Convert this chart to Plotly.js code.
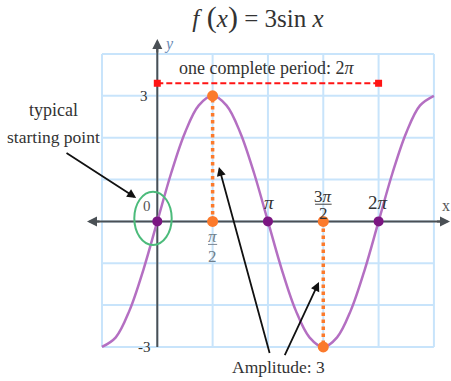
<!DOCTYPE html>
<html>
<head>
<meta charset="utf-8">
<script src="https://cdn.plot.ly/plotly-3.0.1.min.js"></script>
</head>
<body style="margin:0">
<div id="chart" style="width:451px;height:381px"></div>
<script>
const PI = Math.PI;
// curve samples (x in multiples of pi) and values
const curveXPi = [-0.5,-0.375,-0.25,-0.125,0,0.125,0.25,0.375,0.5,0.625,0.75,0.875,1,1.125,1.25,1.375,1.5,1.625,1.75,1.875,2,2.125,2.25,2.375,2.5];
const curveY   = [-3,-2.77,-2.12,-1.15,0,1.15,2.12,2.77,3,2.77,2.12,1.15,0,-1.15,-2.12,-2.77,-3,-2.77,-2.12,-1.15,0,1.15,2.12,2.77,3];
const zeroXPi = [0,1,2];
const zeroY = [0,0,0];
const orangeXPi = [0.5,0.5,1.5,1.5];
const orangeY = [3,0,0,-3];
const ampXPi = [0.5,0.5,null,1.5,1.5];
const ampY = [0,3,null,0,-3];
const periodXPi = [0,2];
const periodY = [3.3,3.3];
const gridXPi = [-0.5,0,0.5,1,1.5,2,2.5];
const gridY = [-3,-2,-1,0,1,2,3,4];

const toRad = a => a.map(v => v === null ? null : v*PI);

const FONT = 'Liberation Serif';
const txt = "#333333";

const traces = [
  {x: toRad(curveXPi), y: curveY, mode:'lines', line:{color:'#b46fc2', width:2.5, shape:'spline', smoothing:1}, hoverinfo:'skip'},
  {x: toRad(ampXPi), y: ampY, mode:'lines', line:{color:'#fb7a2c', width:3.5, dash:'dot'}, hoverinfo:'skip'},
  {x: toRad(periodXPi), y: periodY, mode:'lines+markers', line:{color:'#ff1414', width:2, dash:'6px,3px'}, marker:{symbol:'square', size:7, color:'#ff1414'}, hoverinfo:'skip'},
  {x: toRad(zeroXPi), y: zeroY, mode:'markers', marker:{color:'#7b1682', size:10}, hoverinfo:'skip'},
  {x: toRad(orangeXPi), y: orangeY, mode:'markers', marker:{color:'#fb7a2c', size:11}, hoverinfo:'skip'}
];

const gx0 = gridXPi[0]*PI, gx1 = gridXPi[gridXPi.length-1]*PI;
const gy0 = gridY[0], gy1 = gridY[gridY.length-1];
const shapes = [];
gridXPi.forEach(v => shapes.push({type:'line', layer:'below', x0:v*PI, x1:v*PI, y0:gy0, y1:gy1, line:{color:'#c8e4fb', width:2}}));
gridY.forEach(v => shapes.push({type:'line', layer:'below', x0:gx0, x1:gx1, y0:v, y1:v, line:{color:'#c8e4fb', width:2}}));
// axes
shapes.push({type:'line', layer:'below', x0:-1.9, x1:8.2, y0:0, y1:0, line:{color:'#4a5055', width:2}});
shapes.push({type:'line', layer:'below', x0:0, x1:0, y0:-3, y1:4.2, line:{color:'#4a5055', width:2}});
// green ellipse
shapes.push({type:'circle', layer:'above', x0:-0.653, x1:0.409, y0:-0.564, y1:0.71, line:{color:'#4cbb7b', width:2}});
// fraction bars
shapes.push({type:'line', layer:'above', x0:1.44, x1:1.70, y0:-0.55, y1:-0.55, line:{color:'#7a8794', width:1}});
shapes.push({type:'line', layer:'above', x0:4.48, x1:4.95, y0:0.41, y1:0.41, line:{color:'#444', width:1}});

function label(x, y, text, size, color, xanchor){
  return {x:x, y:y, xref:'x', yref:'y', text:text, showarrow:false,
          font:{family:FONT, size:size||18, color:color||txt}, xanchor:xanchor||'center', yanchor:'middle'};
}
function arrow(hx, hy, tx, ty, width, color){
  return {x:hx, y:hy, ax:tx, ay:ty, xref:'x', yref:'y', axref:'x', ayref:'y', text:'', showarrow:true,
          arrowhead:2, arrowsize:1, arrowwidth:width||1.8, arrowcolor:color||'#111'};
}

const annotations = [
  label(3.09, 3.665, "one complete period: 2<i>π</i>", 18),
  label(-0.2, 3.0, "3", 15, '#333', 'right'),
  label(-0.13, -3.0, "-3", 15, '#333', 'right'),
  label(-0.29, 0.37, "0", 15, '#555'),
  label(3.16, 0.44, "<i>π</i>", 19),
  label(6.27, 0.46, "2<i>π</i>", 19),
  label(4.71, 0.6, "3<i>π</i>", 17),
  label(4.71, 0.18, "2", 17),
  label(1.57, -0.37, "<i>π</i>", 17, '#6f7f8d'),
  label(1.57, -0.85, "2", 17, '#6f7f8d'),
  label(-2.96, 2.66, "typical", 18),
  label(-2.96, 2.02, "starting point", 17.5),
  label(3.43, -3.48, "Amplitude: 3", 17.5),
  label(0.33, 4.24, "<i>y</i>", 16, '#6a8ab5'),
  label(8.2, 0.37, "x", 16, '#555'),
  // pointer arrows
  arrow(-0.60, 0.56, -2.62, 1.66),
  arrow(1.75, 1.30, 3.20, -3.18),
  arrow(4.59, -1.45, 3.60, -3.23),
  // axis arrowheads
  arrow(8.31, 0, 7.9, 0, 2, '#4a5055'),
  arrow(-1.996, 0, -1.6, 0, 2, '#4a5055'),
  arrow(0, 4.36, 0, 4.0, 2, '#4a5055')
];

const layout = {
  width:451, height:381,
  font:{family:FONT, color:'#333'},
  margin:{l:0, r:0, t:0, b:0, pad:0},
  paper_bgcolor:'#ffffff', plot_bgcolor:'#ffffff',
  showlegend:false,
  title:{text:"<i>f</i><span style='font-size:30px'> (</span><i>x</i><span style='font-size:30px'>)</span> = 3sin <i>x</i>",
         x:0.572, y:0.953, xanchor:'center', yanchor:'middle', font:{family:FONT, size:25, color:'#333'}},
  xaxis:{range:[-4.466, 8.339], showgrid:false, zeroline:false, showticklabels:false, showline:false, ticks:'', fixedrange:true},
  yaxis:{range:[-3.813, 5.289], showgrid:false, zeroline:false, showticklabels:false, showline:false, ticks:'', fixedrange:true},
  shapes:shapes,
  annotations:annotations
};

Plotly.newPlot('chart', traces, layout, {displayModeBar:false});
</script>
</body>
</html>
